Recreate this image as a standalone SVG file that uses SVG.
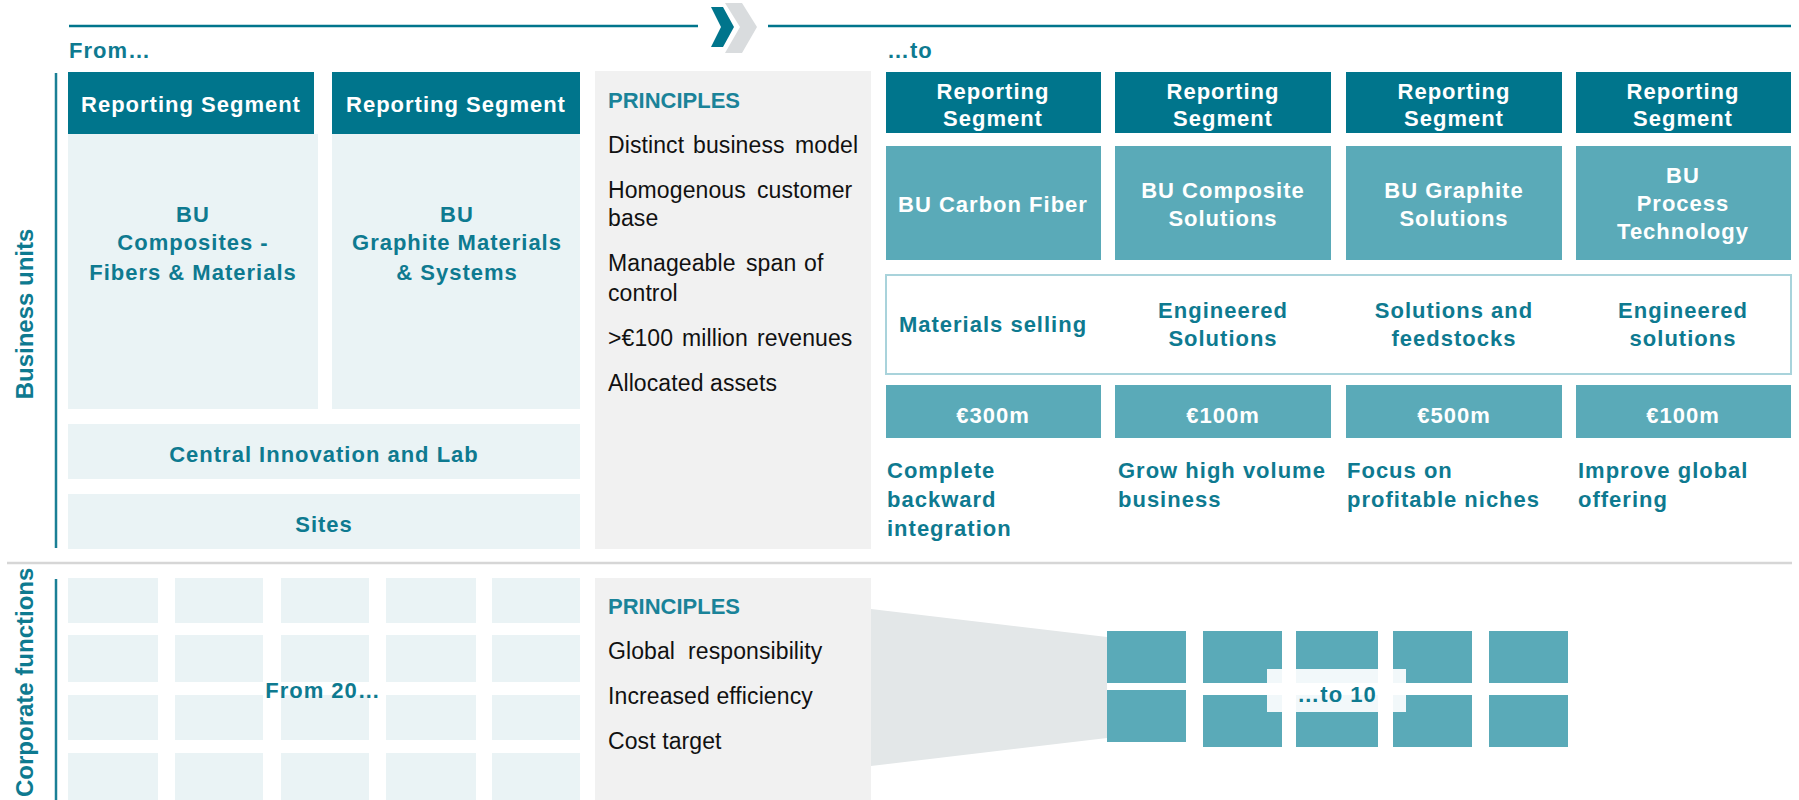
<svg xmlns="http://www.w3.org/2000/svg" width="1799" height="800" viewBox="0 0 1799 800">
<style>
text{font-family:"Liberation Sans",Arial,sans-serif}
.dk{fill:#00758c}
.md{fill:#5aaab8}
.lt{fill:#eaf3f5}
.gr{fill:#f1f1f1}
.b{font-weight:bold;font-size:22px;letter-spacing:1px}
.w{fill:#ffffff}
.t{fill:#0e7a90}
.c{text-anchor:middle}
.r{font-size:23px;letter-spacing:0.1px;fill:#111111}
.h{font-weight:bold;font-size:22px;fill:#1a8399}
.side{font-weight:bold;font-size:24px;fill:#0e7a90}
.vl{stroke:#1a7f95;stroke-width:2.5}
</style>

<g id="connectors">
  <line x1="69" y1="26" x2="698" y2="26" stroke="#00758c" stroke-width="2.5"/>
  <line x1="768" y1="26" x2="1791" y2="26" stroke="#00758c" stroke-width="2.5"/>
  <polygon points="725,3 742,3 757,27 742,53 725,53 740,27" fill="#d9dcde"/>
  <polygon points="711,7 723,7 734,27 723,47 711,47 721,27" fill="#00758c"/>
  <line x1="7" y1="563" x2="1792" y2="563" stroke="#d6d6d6" stroke-width="2.5"/>
  <line class="vl" x1="56" y1="73" x2="56" y2="548"/>
  <line class="vl" x1="56" y1="579" x2="56" y2="800"/>
  <polygon points="871,609 1107,637 1107,738 871,766" fill="#e3e7e8"/>
</g>

<g id="labels">
  <text class="b t" x="69" y="58">From…</text>
  <text class="b t" x="887" y="58">…to</text>
  <text class="side c" transform="translate(33,314) rotate(-90)">Business units</text>
  <text class="side" transform="translate(33,797) rotate(-90)">Corporate functions</text>
</g>

<g id="rs-left-1">
  <rect class="lt" x="68" y="134" width="250" height="275"/>
  <rect class="dk" x="68" y="72" width="246" height="62"/>
  <text class="b w c" x="191" y="112">Reporting Segment</text>
  <text class="b t c" x="193" y="222">BU</text>
  <text class="b t c" x="193" y="250">Composites -</text>
  <text class="b t c" x="193" y="280">Fibers &amp; Materials</text>
</g>
<g id="rs-left-2">
  <rect class="lt" x="332" y="134" width="248" height="275"/>
  <rect class="dk" x="332" y="72" width="248" height="62"/>
  <text class="b w c" x="456" y="112">Reporting Segment</text>
  <text class="b t c" x="457" y="222">BU</text>
  <text class="b t c" x="457" y="250">Graphite Materials</text>
  <text class="b t c" x="457" y="280">&amp; Systems</text>
</g>
<g id="central-innovation">
  <rect class="lt" x="68" y="424" width="512" height="55"/>
  <text class="b t c" x="324" y="462">Central Innovation and Lab</text>
</g>
<g id="sites">
  <rect class="lt" x="68" y="494" width="512" height="55"/>
  <text class="b t c" x="324" y="532">Sites</text>
</g>

<g id="principles-bu">
  <rect class="gr" x="595" y="71" width="276" height="478"/>
  <text class="h" x="608" y="108">PRINCIPLES</text>
  <text class="r" y="153"><tspan x="608">Distinct</tspan><tspan x="693">business</tspan><tspan x="795">model</tspan></text>
  <text class="r" y="198"><tspan x="608">Homogenous</tspan><tspan x="757">customer</tspan></text>
  <text class="r" x="608" y="226">base</text>
  <text class="r" y="271"><tspan x="608">Manageable</tspan><tspan x="746">span</tspan><tspan x="804">of</tspan></text>
  <text class="r" x="608" y="301">control</text>
  <text class="r" y="346"><tspan x="608">&gt;€100</tspan><tspan x="682">million</tspan><tspan x="757">revenues</tspan></text>
  <text class="r" x="608" y="391">Allocated assets</text>
</g>

<g id="bu-carbon-fiber">
  <rect class="dk" x="886" y="72" width="215" height="61"/>
  <text class="b w c" x="993" y="99">Reporting</text>
  <text class="b w c" x="993" y="126">Segment</text>
  <rect class="md" x="886" y="146" width="215" height="114"/>
  <text class="b w c" x="993" y="212">BU Carbon Fiber</text>
  <text class="b t c" x="993" y="332">Materials selling</text>
  <rect class="md" x="886" y="385" width="215" height="53"/>
  <text class="b w c" x="993" y="423">€300m</text>
  <text class="b t" x="887" y="478">Complete</text>
  <text class="b t" x="887" y="507">backward</text>
  <text class="b t" x="887" y="536">integration</text>
</g>
<g id="bu-composite-solutions">
  <rect class="dk" x="1115" y="72" width="216" height="61"/>
  <text class="b w c" x="1223" y="99">Reporting</text>
  <text class="b w c" x="1223" y="126">Segment</text>
  <rect class="md" x="1115" y="146" width="216" height="114"/>
  <text class="b w c" x="1223" y="198">BU Composite</text>
  <text class="b w c" x="1223" y="226">Solutions</text>
  <text class="b t c" x="1223" y="318">Engineered</text>
  <text class="b t c" x="1223" y="346">Solutions</text>
  <rect class="md" x="1115" y="385" width="216" height="53"/>
  <text class="b w c" x="1223" y="423">€100m</text>
  <text class="b t" x="1118" y="478">Grow high volume</text>
  <text class="b t" x="1118" y="507">business</text>
</g>
<g id="bu-graphite-solutions">
  <rect class="dk" x="1346" y="72" width="216" height="61"/>
  <text class="b w c" x="1454" y="99">Reporting</text>
  <text class="b w c" x="1454" y="126">Segment</text>
  <rect class="md" x="1346" y="146" width="216" height="114"/>
  <text class="b w c" x="1454" y="198">BU Graphite</text>
  <text class="b w c" x="1454" y="226">Solutions</text>
  <text class="b t c" x="1454" y="318">Solutions and</text>
  <text class="b t c" x="1454" y="346">feedstocks</text>
  <rect class="md" x="1346" y="385" width="216" height="53"/>
  <text class="b w c" x="1454" y="423">€500m</text>
  <text class="b t" x="1347" y="478">Focus on</text>
  <text class="b t" x="1347" y="507">profitable niches</text>
</g>
<g id="bu-process-technology">
  <rect class="dk" x="1576" y="72" width="215" height="61"/>
  <text class="b w c" x="1683" y="99">Reporting</text>
  <text class="b w c" x="1683" y="126">Segment</text>
  <rect class="md" x="1576" y="146" width="215" height="114"/>
  <text class="b w c" x="1683" y="183">BU</text>
  <text class="b w c" x="1683" y="211">Process</text>
  <text class="b w c" x="1683" y="239">Technology</text>
  <text class="b t c" x="1683" y="318">Engineered</text>
  <text class="b t c" x="1683" y="346">solutions</text>
  <rect class="md" x="1576" y="385" width="215" height="53"/>
  <text class="b w c" x="1683" y="423">€100m</text>
  <text class="b t" x="1578" y="478">Improve global</text>
  <text class="b t" x="1578" y="507">offering</text>
</g>
<g id="business-model-band">
  <rect x="886" y="275" width="905" height="99" fill="none" stroke="#a9d3db" stroke-width="2"/>
</g>

<g id="corporate-from">
  <rect class="lt" x="68" y="578" width="90" height="45"/>
  <rect class="lt" x="175" y="578" width="88" height="45"/>
  <rect class="lt" x="281" y="578" width="88" height="45"/>
  <rect class="lt" x="386" y="578" width="90" height="45"/>
  <rect class="lt" x="492" y="578" width="88" height="45"/>
  <rect class="lt" x="68" y="635" width="90" height="47"/>
  <rect class="lt" x="175" y="635" width="88" height="47"/>
  <rect class="lt" x="281" y="635" width="88" height="47"/>
  <rect class="lt" x="386" y="635" width="90" height="47"/>
  <rect class="lt" x="492" y="635" width="88" height="47"/>
  <rect class="lt" x="68" y="695" width="90" height="45"/>
  <rect class="lt" x="175" y="695" width="88" height="45"/>
  <rect class="lt" x="281" y="695" width="88" height="45"/>
  <rect class="lt" x="386" y="695" width="90" height="45"/>
  <rect class="lt" x="492" y="695" width="88" height="45"/>
  <rect class="lt" x="68" y="753" width="90" height="47"/>
  <rect class="lt" x="175" y="753" width="88" height="47"/>
  <rect class="lt" x="281" y="753" width="88" height="47"/>
  <rect class="lt" x="386" y="753" width="90" height="47"/>
  <rect class="lt" x="492" y="753" width="88" height="47"/>
  <text class="b t c" x="323" y="698">From 20…</text>
</g>

<g id="principles-corporate">
  <rect class="gr" x="595" y="578" width="276" height="222"/>
  <text class="h" x="608" y="614">PRINCIPLES</text>
  <text class="r" y="659"><tspan x="608">Global</tspan><tspan x="688">responsibility</tspan></text>
  <text class="r" x="608" y="704">Increased efficiency</text>
  <text class="r" x="608" y="749">Cost target</text>
</g>

<g id="corporate-to">
  <rect class="md" x="1107" y="631" width="79" height="52"/>
  <rect class="md" x="1203" y="631" width="79" height="52"/>
  <rect class="md" x="1296" y="631" width="82" height="52"/>
  <rect class="md" x="1393" y="631" width="79" height="52"/>
  <rect class="md" x="1489" y="631" width="79" height="52"/>
  <rect class="md" x="1107" y="690" width="79" height="52"/>
  <rect class="md" x="1203" y="695" width="79" height="52"/>
  <rect class="md" x="1296" y="695" width="82" height="52"/>
  <rect class="md" x="1393" y="695" width="79" height="52"/>
  <rect class="md" x="1489" y="695" width="79" height="52"/>
  <rect x="1267" y="669" width="139" height="43" fill="#ffffff" fill-opacity="0.92"/>
  <text class="b t c" x="1337" y="702">…to 10</text>
</g>
</svg>
